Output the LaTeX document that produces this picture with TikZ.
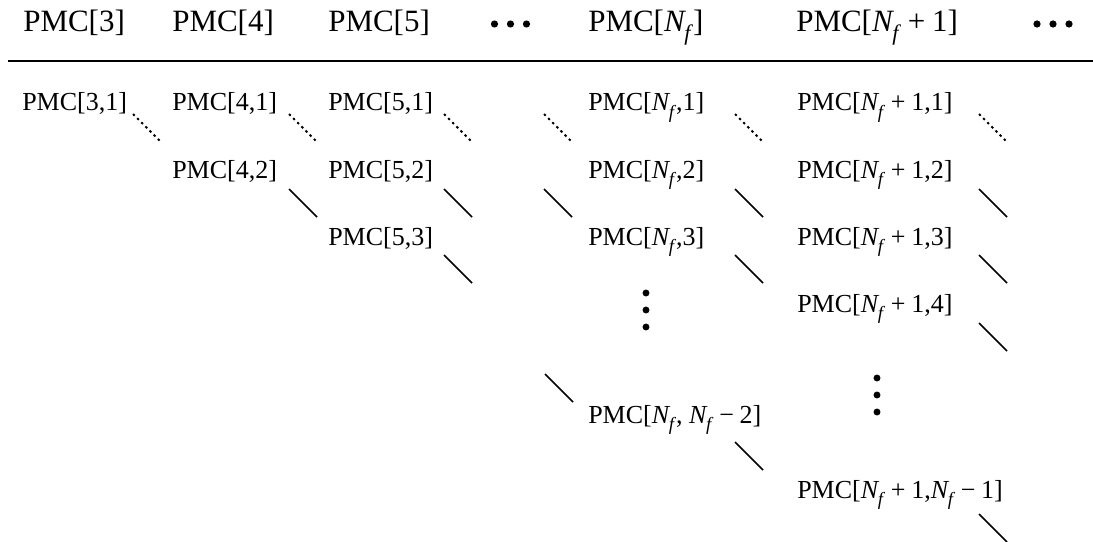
\documentclass[tikz,border=0pt]{standalone}
\usepackage{fontspec}
\setmainfont{Liberation Serif}
\newcommand\Nf{\textit{N}\kern-0.06em\raisebox{-0.28em}{\scalebox{0.72}{\textit{f}}}}
\newcommand\pmcplus{\hspace{0.22em}+\hspace{0.22em}}
\newcommand\pmcminus{\hspace{0.22em}−\hspace{0.22em}}
\begin{document}
\begin{tikzpicture}[x=0.75pt,y=-0.75pt,
  hdr/.style={anchor=base west, inner sep=0pt, font=\fontsize{23.25pt}{28pt}\selectfont},
  lbl/.style={anchor=base west, inner sep=0pt, font=\fontsize{19.5pt}{24pt}\selectfont},
  solidlink/.style={line width=1.15pt},
  dottedlink/.style={line width=1.5pt, dash pattern=on 1.8pt off 2.6pt},
  rulestyle/.style={line width=1.5pt},
  dotmark/.style={fill=black}]
\useasboundingbox (0,0) rectangle (1093,542);

% header
\node[hdr] (h3)  at (23,32)  {PMC[3]};
\node[hdr] (h4)  at (172,32) {PMC[4]};
\node[hdr] (h5)  at (328,32) {PMC[5]};
\node[hdr] (hN)  at (588,32) {PMC[\Nf]};
\node[hdr] (hN1) at (796,32) {PMC[\Nf\pmcplus 1]};
\foreach \x in {494.5,510.5,526.5,1037,1053,1069}
  \fill[dotmark] (\x,24) circle[radius=2.7pt];

\draw[rulestyle] (8,61) coordinate (ruleA) -- (1093,61) coordinate (ruleB);

% column 3
\node[lbl] (p31) at (22,111) {PMC[3,1]};
% column 4
\node[lbl] (p41) at (172,111) {PMC[4,1]};
\node[lbl] (p42) at (172,178) {PMC[4,2]};
% column 5
\node[lbl] (p51) at (328,111) {PMC[5,1]};
\node[lbl] (p52) at (328,178) {PMC[5,2]};
\node[lbl] (p53) at (328,245) {PMC[5,3]};
% column Nf
\node[lbl] (pN1) at (588,111) {PMC[\Nf,1]};
\node[lbl] (pN2) at (588,178) {PMC[\Nf,2]};
\node[lbl] (pN3) at (588,245) {PMC[\Nf,3]};
\node[lbl] (pNk) at (588,423) {PMC[\Nf, \Nf\pmcminus 2]};
\foreach \y in {293,310,327}
  \fill[dotmark] (646,\y) circle[radius=2.6pt];
% column Nf+1
\node[lbl] (pM1) at (797,111) {PMC[\Nf\pmcplus 1,1]};
\node[lbl] (pM2) at (797,178) {PMC[\Nf\pmcplus 1,2]};
\node[lbl] (pM3) at (797,245) {PMC[\Nf\pmcplus 1,3]};
\node[lbl] (pM4) at (797,312) {PMC[\Nf\pmcplus 1,4]};
\node[lbl] (pMk) at (797,498) {PMC[\Nf\pmcplus 1,\Nf\pmcminus 1]};
\foreach \y in {378,395,412}
  \fill[dotmark] (877,\y) circle[radius=2.6pt];

% dotted links (row 1 -> row 2)
\foreach \x in {133,289,444,544,735,979}
  \draw[dottedlink] (\x,114) -- ++(29,29);
% solid links
\foreach \x/\y in {289/189,444/189,544/189,735/189,979/189,
                   444/255,735/255,979/255,
                   979/323,545/374,735/442,979/514}
  \draw[solidlink] (\x,\y) -- ++(28,28);
\end{tikzpicture}
\end{document}
